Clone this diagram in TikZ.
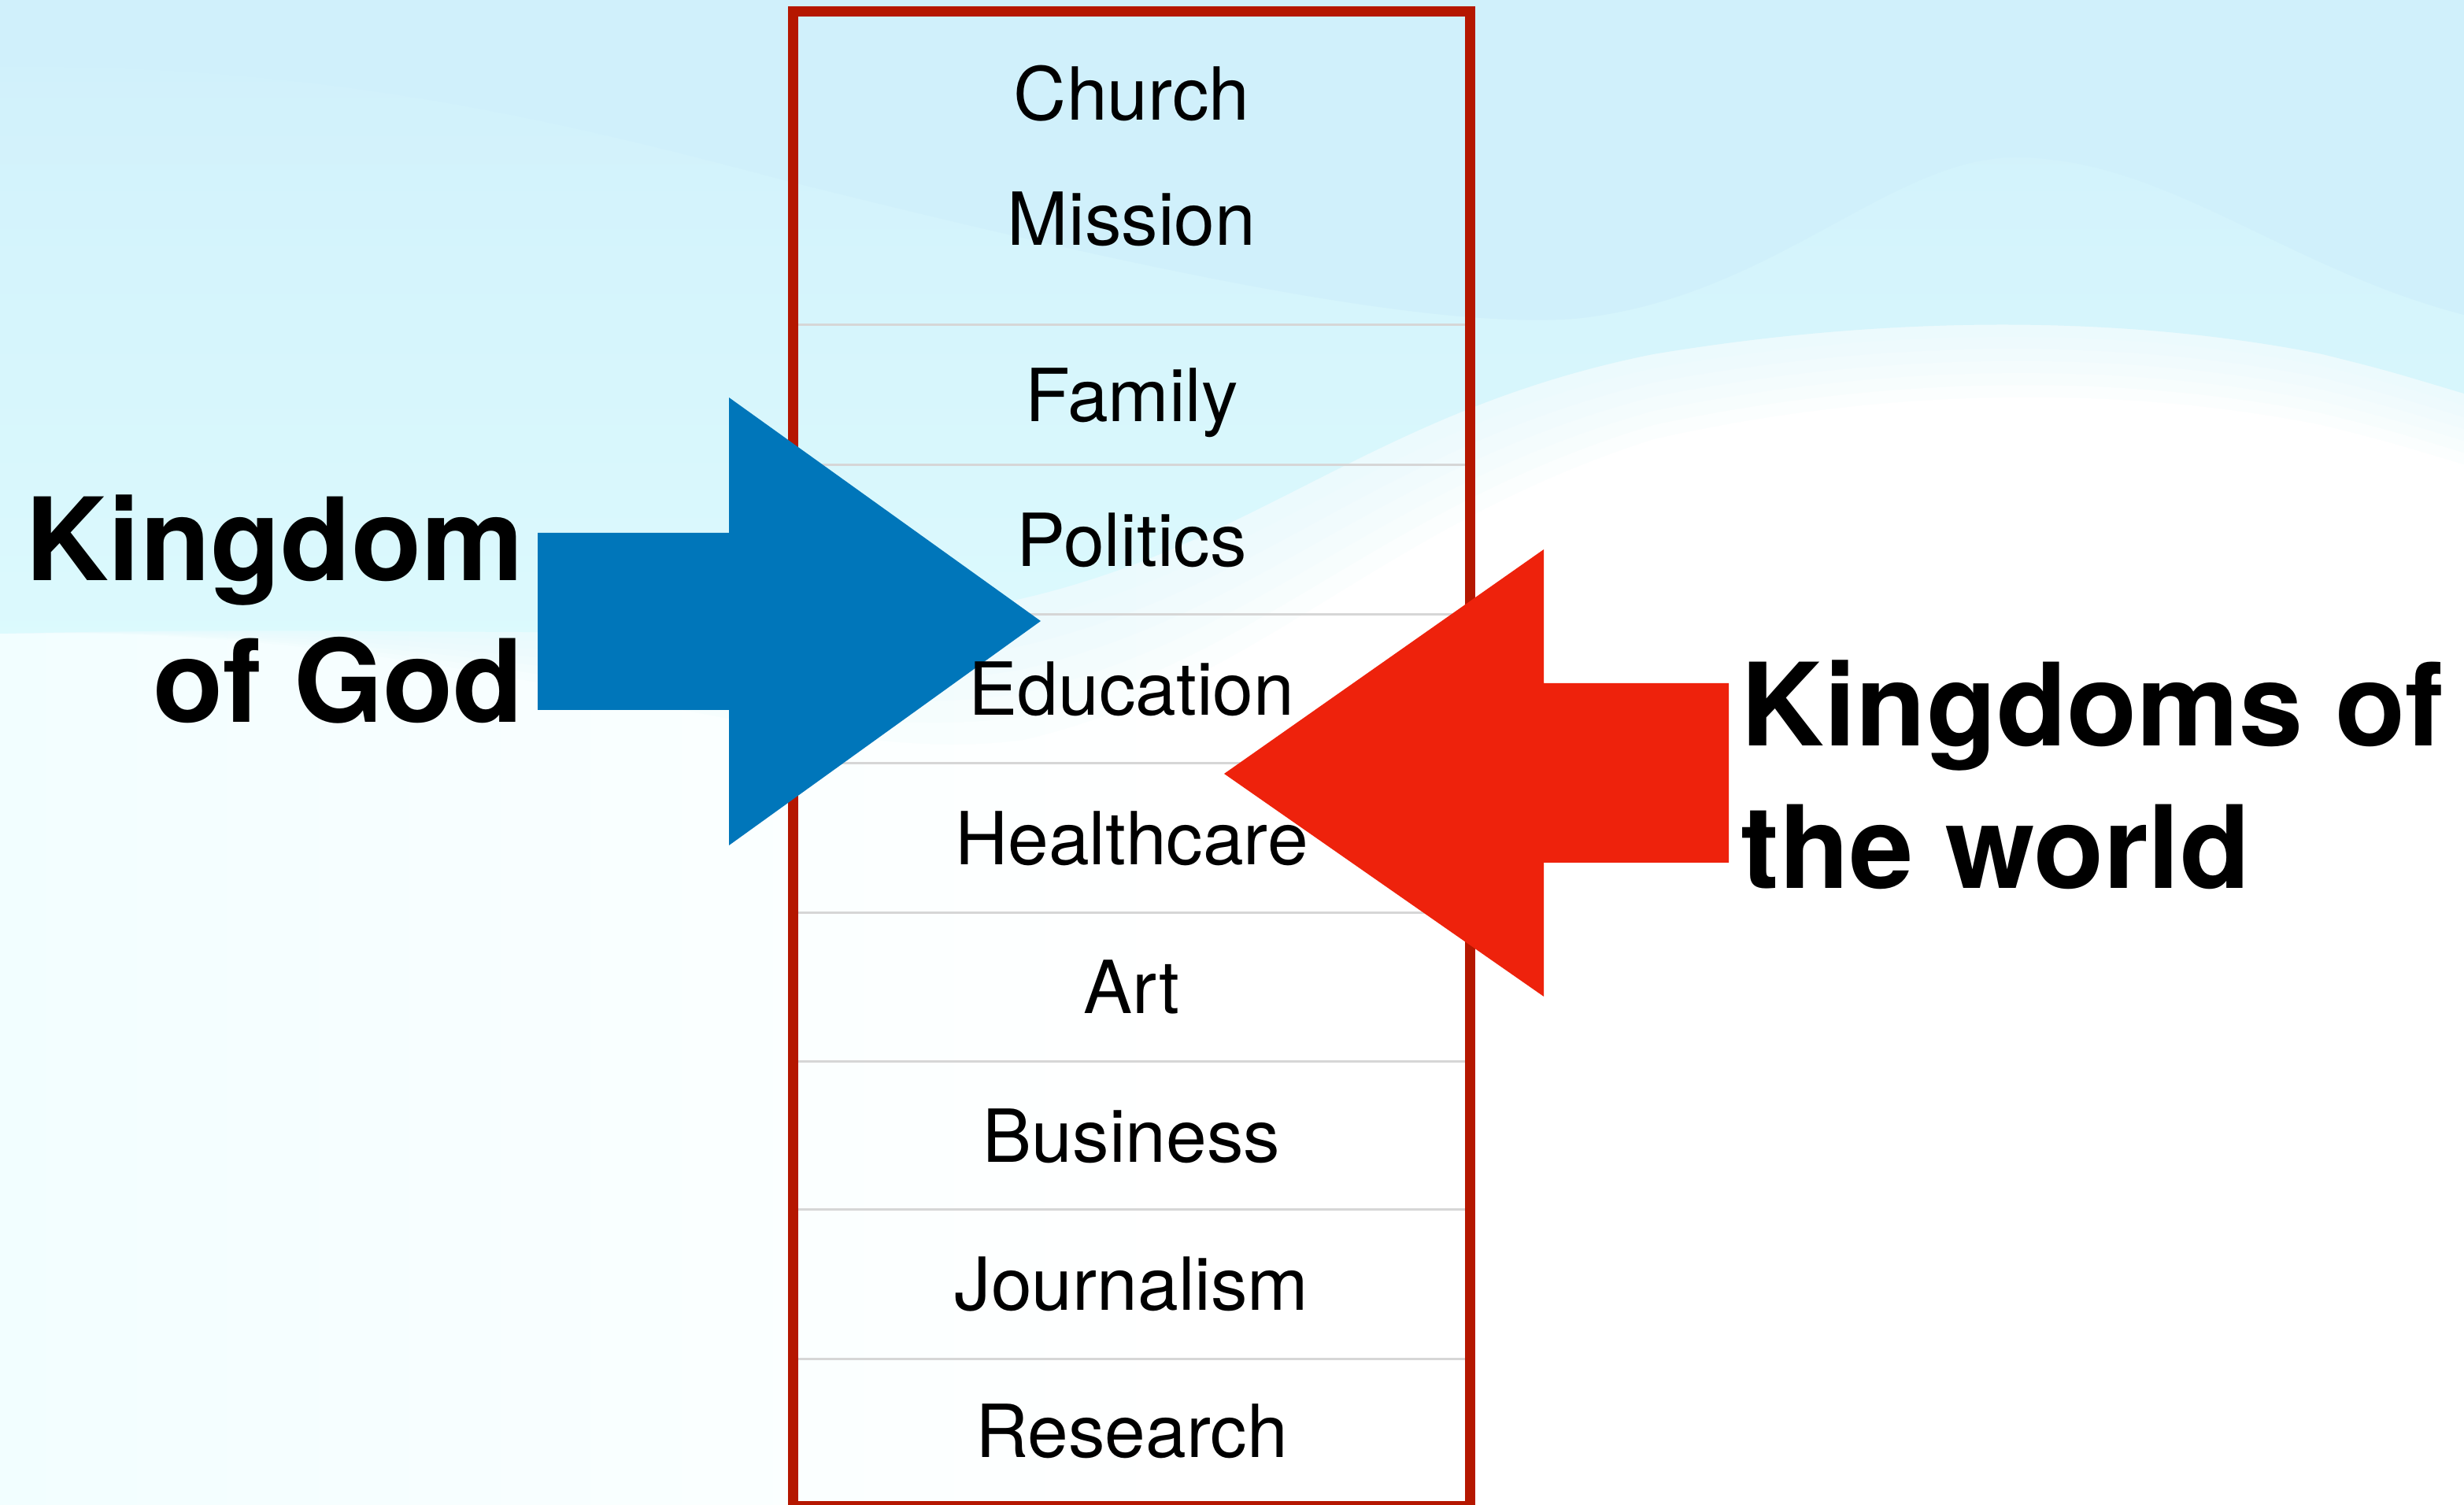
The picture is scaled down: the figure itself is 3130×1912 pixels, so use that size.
\documentclass[tikz,border=0pt]{standalone}
\usepackage{fontspec}
\setmainfont{TeX Gyre Heros}
\definecolor{kblue}{HTML}{0076BA}
\definecolor{kred}{HTML}{EE220C}
\definecolor{kborder}{HTML}{B51700}
\definecolor{divgray}{HTML}{D6D6D6}
\definecolor{bgtop}{HTML}{D0F0FB}
\definecolor{bgmid}{HTML}{DCFAFD}
\definecolor{bglow}{HTML}{F2FEFF}
\tikzset{
  item/.style={anchor=base, inner sep=0pt, text=black, font=\fontsize{23.25}{28}\selectfont},
  biglabel/.style={inner sep=0pt, text=black, font=\bfseries\fontsize{36.5}{44}\selectfont},
  divider/.style={draw=divgray, line width=0.75pt},
  frame/.style={draw=kborder, line width=3.25pt},
}
\begin{document}
\begin{tikzpicture}[x=0.25pt, y=-0.25pt]
\useasboundingbox (0,0) rectangle (3130,1912);
% ---------- background ----------
\begin{scope}
\clip (0,0) rectangle (3130,1912);
\fill[white] (0,0) rectangle (3130,1912);
\shade[left color=bglow, right color=white] (0,700) rectangle (1500,1912);
\foreach \k in {1,...,6}{
  \fill[bgmid, opacity=0.10] (0,0) -- (0,805) .. controls (600,790) and (1000,{830+25*\k}) .. (1300,{760+30*\k}) .. controls (1600,{690+30*\k}) and (1750,{520+25*\k}) .. (2100,{450+18*\k}) .. controls (2400,{400+15*\k}) and (2700,{400+15*\k}) .. (2950,{450+15*\k}) .. controls (3030,{470+15*\k}) .. (3130,{500+15*\k}) -- (3130,0) -- cycle;
}
\shade[top color=bgtop, bottom color=bgmid] (0,0) -- (0,805) .. controls (600,790) and (1000,830) .. (1300,760) .. controls (1600,690) and (1750,520) .. (2100,450) .. controls (2400,400) and (2700,400) .. (2950,450) .. controls (3030,470) .. (3130,500) -- (3130,0) -- cycle;
\fill[bgtop] (0,0) -- (0,85) .. controls (400,80) and (700,150) .. (1000,230) .. controls (1400,330) and (1800,420) .. (2000,405) .. controls (2250,380) and (2400,200) .. (2560,200) .. controls (2750,200) and (2900,340) .. (3130,400) -- (3130,0) -- cycle;
\end{scope}
% ---------- box ----------
\draw[frame] (1007.5,15) rectangle (1867.5,1913.5);
\foreach \yy in {413,591,781,970,1160,1349,1537,1727}
  \draw[divider] (1014,\yy) -- (1861,\yy);
% ---------- arrows ----------
\coordinate (btip) at (1322,789);
\coordinate (rtip) at (1555,983);
\fill[kblue] (683,677) -- (926,677) -- (926,505) -- (btip) -- (926,1074) -- (926,902) -- (683,902) -- cycle;
\fill[kred] (2196,868) -- (1961,868) -- (1961,698) -- (rtip) -- (1961,1266) -- (1961,1096) -- (2196,1096) -- cycle;
% ---------- items ----------
\node[item] (church) at (1437.5,153) {Church};
\node[item] (mission) at (1437.5,312) {Mission};
\node[item] (family) at (1437.5,535.5) {Family};
\node[item] (politics) at (1437.5,719.5) {Politics};
\node[item] (education) at (1437.5,909) {Education};
\node[item] (healthcare) at (1437.5,1098.5) {Healthcare};
\node[item] (art) at (1437.5,1288) {Art};
\node[item] (business) at (1437.5,1476.5) {Business};
\node[item] (journalism) at (1437.5,1665) {Journalism};
\node[item] (research) at (1437.5,1852) {Research};
% ---------- labels ----------
\node[biglabel, anchor=base east] (kog1) at (666,738) {Kingdom};
\node[biglabel, anchor=base east] (kog2) at (666,918) {of God};
\node[biglabel, anchor=base west] (kow1) at (2211,948) {Kingdoms of};
\node[biglabel, anchor=base west] (kow2) at (2211,1129) {the world};
\end{tikzpicture}
\end{document}
